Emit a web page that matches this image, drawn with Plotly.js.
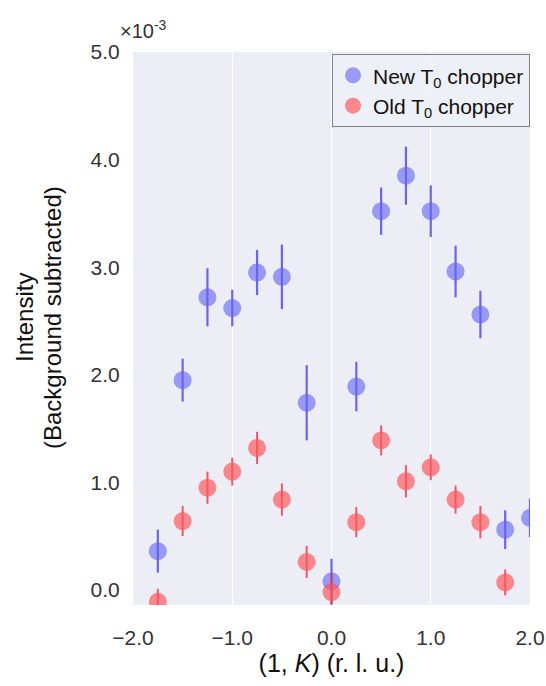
<!DOCTYPE html>
<html>
<head>
<meta charset="utf-8">
<script src="https://cdn.plot.ly/plotly-3.0.1.min.js"></script>
<style>html,body{margin:0;padding:0;background:#fff;}#chart{width:546px;height:686px;}</style>
</head>
<body>
<div id="chart"></div>
<script>
// K positions (r.l.u.)
const kNew = [-1.75, -1.5, -1.25, -1.0, -0.75, -0.5, -0.25, 0.0, 0.25, 0.5, 0.75, 1.0, 1.25, 1.5, 1.75, 2.0];
const intensityNew = [0.36, 1.95, 2.72, 2.62, 2.95, 2.91, 1.74, 0.08, 1.89, 3.52, 3.85, 3.52, 2.96, 2.56, 0.56, 0.67];
const errNew = [0.20, 0.20, 0.27, 0.17, 0.21, 0.30, 0.35, 0.21, 0.23, 0.22, 0.27, 0.24, 0.24, 0.22, 0.18, 0.18];

const kOld = [-1.75, -1.5, -1.25, -1.0, -0.75, -0.5, -0.25, 0.0, 0.25, 0.5, 0.75, 1.0, 1.25, 1.5, 1.75];
const intensityOld = [-0.11, 0.64, 0.95, 1.10, 1.32, 0.84, 0.26, -0.02, 0.63, 1.39, 1.01, 1.14, 0.84, 0.63, 0.07];
const errOld = [0.12, 0.14, 0.15, 0.13, 0.15, 0.15, 0.15, 0.17, 0.14, 0.14, 0.15, 0.12, 0.13, 0.15, 0.12];

const xTickVals = [-2, -1, 0, 1, 2];
const xTickText = ['\u22122.0', '\u22121.0', '0.0', '1.0', '2.0'];
const yTickVals = [0, 1, 2, 3, 4, 5];
const yTickText = ['0.0', '1.0', '2.0', '3.0', '4.0', '5.0'];

const yTitleLines = ['Intensity', '(Background subtracted)'];

const FONT = 'Liberation Sans, Arial, sans-serif';

const traces = [
  {
    x: kNew, y: intensityNew, type: 'scatter', mode: 'markers',
    name: 'New T<sub>0</sub> chopper',
    marker: {size: 18, color: 'rgba(100,100,245,0.62)', line: {width: 0}},
    error_y: {type: 'data', array: errNew, visible: true, color: 'rgba(85,75,240,0.85)', thickness: 2.2, width: 0}
  },
  {
    x: kOld, y: intensityOld, type: 'scatter', mode: 'markers',
    name: 'Old T<sub>0</sub> chopper',
    marker: {size: 18, color: 'rgba(255,85,90,0.68)', line: {width: 0}},
    error_y: {type: 'data', array: errOld, visible: true, color: 'rgba(240,50,70,0.8)', thickness: 2, width: 0}
  }
];

const layout = {
  width: 546, height: 686,
  margin: {l: 133, r: 16, t: 52, b: 81},
  paper_bgcolor: '#ffffff',
  plot_bgcolor: '#ecedf5',
  font: {family: FONT, color: '#222'},
  showlegend: true,
  legend: {
    x: 1.0, y: 0.996, xanchor: 'right', yanchor: 'top',
    bgcolor: 'rgba(238,240,247,0.95)', bordercolor: '#808080', borderwidth: 1,
    font: {family: FONT, size: 21, color: '#111'},
    itemwidth: 30, tracegroupgap: 0
  },
  xaxis: {
    range: [-2.0, 2.0], tickvals: xTickVals, ticktext: xTickText,
    tickfont: {family: FONT, size: 21, color: '#333'},
    ticks: 'outside', ticklen: 14, tickcolor: 'rgba(0,0,0,0)',
    showgrid: true, gridcolor: '#ffffff', gridwidth: 1,
    zeroline: false, showline: false,
    title: {text: '(1, <i>K</i>) (r. l. u.)', font: {family: FONT, size: 25, color: '#111'}, standoff: 5}
  },
  yaxis: {
    range: [-0.14, 5.0], tickvals: yTickVals, ticktext: yTickText,
    tickfont: {family: FONT, size: 21, color: '#333'},
    ticks: 'outside', ticklen: 8, tickcolor: 'rgba(0,0,0,0)',
    showgrid: false, zeroline: false, showline: false
  },
  annotations: [
    {
      xref: 'paper', yref: 'paper', x: -0.038, y: 1, xanchor: 'left', yanchor: 'bottom',
      yshift: 8, showarrow: false,
      text: '\u00d710<sup>-3</sup>', font: {family: FONT, size: 20, color: '#333'}
    },
    {
      xref: 'paper', yref: 'paper', x: 0, y: 0.519, xanchor: 'center', yanchor: 'middle',
      xshift: -108, showarrow: false, textangle: -90,
      text: yTitleLines[0], font: {family: FONT, size: 24, color: '#111'}
    },
    {
      xref: 'paper', yref: 'paper', x: 0, y: 0.519, xanchor: 'center', yanchor: 'middle',
      xshift: -80, showarrow: false, textangle: -90,
      text: yTitleLines[1], font: {family: FONT, size: 24, color: '#111'}
    }
  ]
};

Plotly.newPlot('chart', traces, layout, {displayModeBar: false, staticPlot: true});
</script>
</body>
</html>
